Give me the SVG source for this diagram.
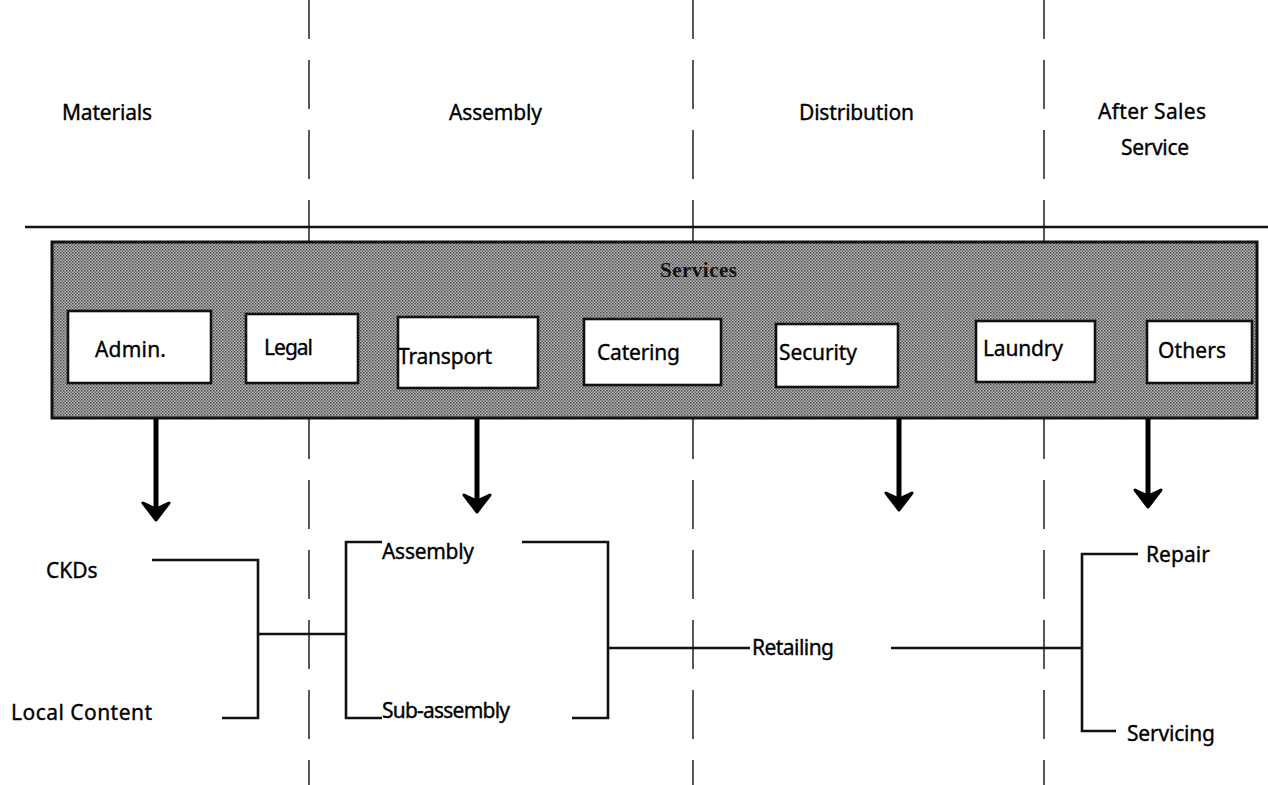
<svg xmlns="http://www.w3.org/2000/svg" width="1268" height="785" viewBox="0 0 1268 785">
<defs>
<pattern id="dots" x="0" y="0" width="3" height="3" patternUnits="userSpaceOnUse">
<rect width="3" height="3" fill="#bdbdbd"/>
<rect x="0" y="0" width="1.5" height="1.5" fill="#444"/>
<rect x="1.5" y="1.5" width="1.5" height="1.5" fill="#606060"/>
</pattern>
<style>
.t{font-family:"Noto Sans","DejaVu Sans",sans-serif;font-size:21px;fill:#000;stroke:#000;stroke-width:0.35}
.ttl{font-family:"Liberation Serif","DejaVu Serif",serif;font-size:21px;font-weight:bold;fill:#111}
.dash{stroke:#222;stroke-width:1.5;stroke-dasharray:49 21;fill:none}
.ln{stroke:#111;stroke-width:2.6;fill:none}
.box{fill:#fff;stroke:#111;stroke-width:2.6}
.shaft{stroke:#000;stroke-width:5;fill:none}
.head{fill:#000;stroke:#000;stroke-width:3;stroke-linejoin:round}
</style>
</defs>
<rect width="1268" height="785" fill="#fff"/>

<g id="phase-dividers">
<line class="dash" x1="309" y1="-10" x2="309" y2="785"/>
<line class="dash" x1="693" y1="-10" x2="693" y2="785"/>
<line class="dash" x1="1044" y1="-10" x2="1044" y2="785"/>
</g>

<g id="phase-labels">
<text class="t" x="62" y="120" textLength="90">Materials</text>
<text class="t" x="449" y="120" textLength="93">Assembly</text>
<text class="t" x="799" y="120" textLength="115">Distribution</text>
<text class="t" x="1098" y="119" textLength="108">After Sales</text>
<text class="t" x="1121" y="155" textLength="68">Service</text>
</g>

<line id="header-rule" x1="25" y1="227" x2="1268" y2="227" stroke="#111" stroke-width="2.6"/>

<g id="services">
<rect x="52" y="242" width="1205" height="176" fill="url(#dots)" stroke="#111" stroke-width="3"/>
<text class="ttl" x="660" y="277" textLength="77">Services</text>
</g>

<g id="admin"><rect class="box" x="68" y="311" width="143" height="72"/><text class="t" x="95" y="357" textLength="71">Admin.</text></g>
<g id="legal"><rect class="box" x="246" y="314" width="112" height="69"/><text class="t" x="264" y="355" textLength="49">Legal</text></g>
<g id="transport"><rect class="box" x="398" y="317" width="140" height="71"/><text class="t" x="398" y="364" textLength="94">Transport</text></g>
<g id="catering"><rect class="box" x="584" y="319" width="137" height="66"/><text class="t" x="597" y="360" textLength="83">Catering</text></g>
<g id="security"><rect class="box" x="776" y="324" width="122" height="63"/><text class="t" x="779" y="360" textLength="78">Security</text></g>
<g id="laundry"><rect class="box" x="976" y="321" width="119" height="61"/><text class="t" x="983" y="356" textLength="80">Laundry</text></g>
<g id="others"><rect class="box" x="1147" y="321" width="105" height="62"/><text class="t" x="1158" y="358" textLength="68">Others</text></g>

<g id="ckds"><text class="t" x="46" y="578">CKDs</text></g>
<g id="local-content"><text class="t" x="11" y="720" textLength="141">Local Content</text></g>
<g id="assembly-step"><text class="t" x="382" y="559" textLength="92">Assembly</text></g>
<g id="sub-assembly"><text class="t" x="382" y="718" textLength="128">Sub-assembly</text></g>
<g id="retailing"><text class="t" x="752" y="655" textLength="82">Retailing</text></g>
<g id="repair"><text class="t" x="1146" y="562" textLength="64">Repair</text></g>
<g id="servicing"><text class="t" x="1127" y="741" textLength="88">Servicing</text></g>

<g id="connectors">
<line class="shaft" x1="156" y1="419" x2="156" y2="510"/>
<path class="head" d="M156,520 L143,503 L156,509 L169,503 Z"/>
<line class="shaft" x1="477" y1="419" x2="477" y2="502"/>
<path class="head" d="M477,512 L464,495 L477,501 L490,495 Z"/>
<line class="shaft" x1="899" y1="419" x2="899" y2="500"/>
<path class="head" d="M899,510 L886,493 L899,499 L912,493 Z"/>
<line class="shaft" x1="1148" y1="419" x2="1148" y2="497"/>
<path class="head" d="M1148,507 L1135,490 L1148,496 L1161,490 Z"/>

<polyline class="ln" points="152,560 258,560 258,718 222,718"/>
<line class="ln" x1="258" y1="634" x2="346" y2="634"/>
<polyline class="ln" points="382,542 346,542 346,718 382,718"/>
<polyline class="ln" points="522,542 608,542 608,718 572,718"/>
<line class="ln" x1="608" y1="648" x2="750" y2="648"/>
<line class="ln" x1="891" y1="648" x2="1082" y2="648"/>
<polyline class="ln" points="1138,554 1082,554 1082,731 1116,731"/>
</g>
</svg>
